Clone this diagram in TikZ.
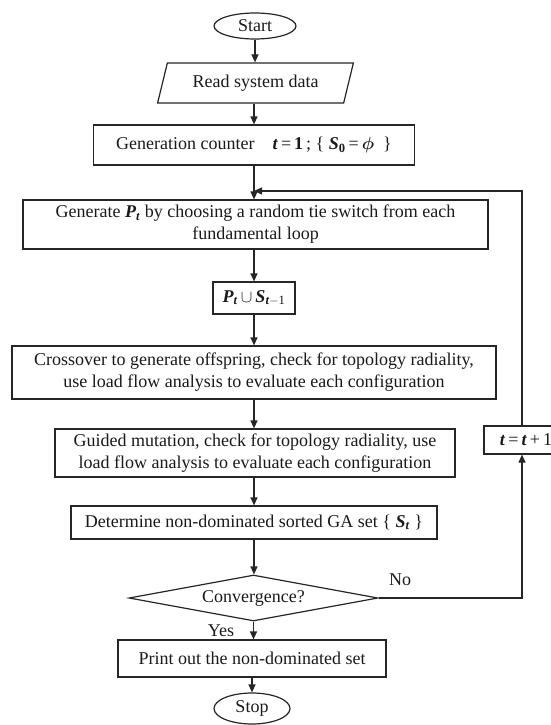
\documentclass[tikz,border=0pt]{standalone}
\usepackage{fontspec}
\setmainfont{Liberation Serif}
\usepackage{bm}
\usetikzlibrary{shapes.geometric,arrows.meta}
\newcommand{\bi}[1]{\textbf{\textit{#1}}}
\definecolor{linec}{HTML}{262626}
\definecolor{textc}{HTML}{1A1A1A}
\tikzset{
  box/.style={draw=linec, line width=1.2pt, rectangle, inner sep=0pt, align=center, text=textc},
  term/.style={draw=linec, line width=1.2pt, ellipse, inner sep=0pt, text=textc},
  para/.style={draw=linec, line width=1.2pt, trapezium, trapezium left angle=67, trapezium right angle=113, trapezium stretches=true, inner sep=0pt, text=textc},
  decis/.style={draw=linec, line width=1.2pt, diamond, aspect=5, inner sep=0pt, text=textc},
  arr/.style={draw=linec, line width=1.2pt, -{Triangle[length=8pt,width=7pt]}},
  conn/.style={draw=linec, line width=1.2pt},
  lbl/.style={inner sep=0pt, text=textc}
}
\begin{document}
\begin{tikzpicture}[x=1pt,y=-1pt,font=\fontsize{18}{22}\selectfont]
\useasboundingbox[fill=white] (0,0) rectangle (551,725);
\node[term, minimum width=82pt, minimum height=26pt] (start) at (255,26) {Start};
\node[para, minimum width=196pt, minimum height=40pt] (read) at (255.5,83) {Read system data};
\node[box, minimum width=321pt, minimum height=40pt] (gen) at (254,145) {Generation counter\quad \bi{t}\,=\,\textbf{1}\,; \{ \bi{S}\textsubscript{\textbf{0}}\,=\,$\bm{\phi}$ \ \}};
\node[box, minimum width=465pt, minimum height=49pt] (generate) at (255.5,224.5) {Generate \bi{P}\textsubscript{\bi{t}} by choosing a random tie switch from each\\fundamental loop};
\node[box, minimum width=82pt, minimum height=32pt] (union) at (254,298) {\bi{P}\textsubscript{\bi{t}}\,$\cup$\,\bi{S}\textsubscript{\bi{t}$-$1}};
\node[box, minimum width=484pt, minimum height=53pt] (cross) at (254,372.5) {Crossover to generate offspring, check for topology radiality,\\use load flow analysis to evaluate each configuration};
\node[box, minimum width=400pt, minimum height=48pt] (mut) at (255,453) {Guided mutation, check for topology radiality, use\\load flow analysis to evaluate each configuration};
\node[box, minimum width=366pt, minimum height=33pt] (det) at (254,522.5) {Determine non-dominated sorted GA set \{ \bi{S}\textsubscript{\bi{t}} \}};
\node[decis, minimum width=249pt, minimum height=46pt] (conv) at (253.5,598) {Convergence?};
\node[box, minimum width=268pt, minimum height=37pt] (print) at (252,658.5) {Print out the non-dominated set};
\node[term, minimum width=76pt, minimum height=31pt] (stop) at (252,708.5) {Stop};
\node[box, minimum width=84pt, minimum height=28pt] (tinc) at (526,440) {\bi{t}\,=\,\bi{t}\,+\,1};
\node[lbl] (no) at (400,580) {No};
\node[lbl] (yes) at (221,631) {Yes};
\coordinate (loopin) at (254,191);
\draw[arr] (start.south) -- (start.south |- read.north);
\draw[arr] (read.south -| gen.north) -- (gen.north);
\draw[arr] (gen.south) -- (gen.south |- generate.north);
\draw[arr] (union.north |- generate.south) -- (union.north);
\draw[arr] (union.south) -- (union.south |- cross.north);
\draw[arr] (cross.south) -- (cross.south |- mut.north);
\draw[arr] (det.north |- mut.south) -- (det.north);
\draw[arr] (det.south) -- (det.south |- conv.north);
\draw[arr] (conv.south) -- (conv.south |- print.north);
\draw[arr] (print.south -| stop.north) -- (stop.north);
\draw[arr] (conv.east) -| ([xshift=-4pt]tinc.south);
\draw[arr] ([xshift=-4pt]tinc.north) |- (loopin);
\end{tikzpicture}
\end{document}
